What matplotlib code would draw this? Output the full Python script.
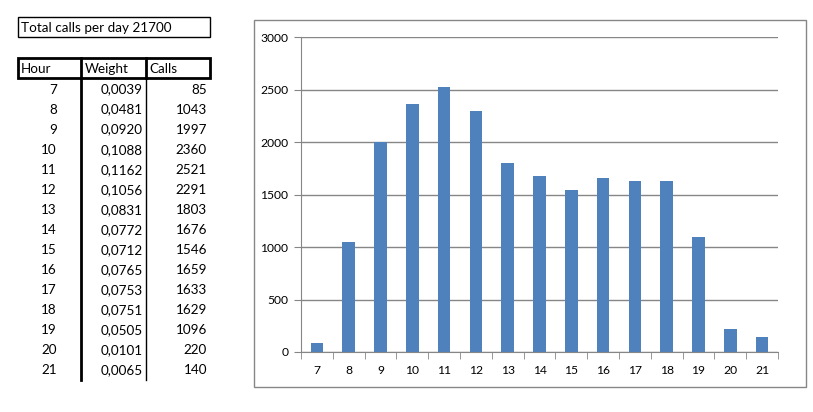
import numpy as np
import matplotlib.pyplot as plt
from matplotlib.patches import Rectangle

# dados
total = 21700
horas = [7, 8, 9, 10, 11, 12, 13, 14, 15, 16, 17, 18, 19, 20, 21]
pesos = ["0,0039", "0,0481", "0,0920", "0,1088", "0,1162", "0,1056", "0,0831",
         "0,0772", "0,0712", "0,0765", "0,0753", "0,0751", "0,0505", "0,0101", "0,0065"]
chamadas = [85, 1043, 1997, 2360, 2521, 2291, 1803, 1676, 1546, 1659, 1633, 1629, 1096, 220, 140]

plt.rcParams['font.family'] = ['Lato', 'DejaVu Sans']

fig = plt.figure(figsize=(8.13, 4.12), dpi=100)

# eixo de fundo em pixels para a tabela
bg = fig.add_axes([0, 0, 1, 1])
bg.set_xlim(0, 813)
bg.set_ylim(412, 0)
bg.axis("off")

fs = 9.7
bg.add_patch(Rectangle((18, 17), 192, 20, fill=False, lw=1, ec="black"))
bg.text(21, 27.5, "Total calls per day %d" % total, fontsize=fs, va="center")

# cabeçalho
bg.add_patch(Rectangle((18, 58), 192, 20, fill=False, lw=2, ec="black"))
bg.plot([81, 81], [58, 380], color="black", lw=2)
bg.plot([146, 146], [58, 78], color="black", lw=2)
bg.plot([146, 146], [78, 380], color="black", lw=1)
bg.text(21, 68.5, "Hour", fontsize=fs, va="center")
bg.text(85, 68.5, "Weight", fontsize=fs, va="center")
bg.text(149, 68.5, "Calls", fontsize=fs, va="center")

# linhas
for i in range(len(horas)):
    y = 89.5 + i * 20.07
    bg.text(57, y, str(horas[i]), fontsize=fs, va="center", ha="right")
    bg.text(143, y, pesos[i], fontsize=fs, va="center", ha="right")
    bg.text(207, y, str(chamadas[i]), fontsize=fs, va="center", ha="right")

# moldura do gráfico
bg.add_patch(Rectangle((254, 20), 552, 367, fill=False, lw=1, ec="#868686"))

# gráfico de barras
ax = fig.add_axes([301 / 813, (412 - 352) / 412, (778 - 301) / 813, (352 - 37) / 412])
x = np.arange(len(horas))
ax.bar(x, chamadas, width=0.4, color="#4F81BD", zorder=3)
ax.set_xlim(-0.5, len(horas) - 0.5)
ax.set_ylim(0, 3000)
ax.set_yticks(np.arange(0, 3001, 500))
ax.set_xticks(x)
ax.set_xticklabels([str(h) for h in horas])
ax.set_xticks(np.arange(-0.5, len(horas), 1), minor=True)
ax.tick_params(axis="x", which="major", length=0, pad=9, labelsize=8.7)
ax.tick_params(axis="x", which="minor", length=5, color="#868686")
ax.tick_params(axis="y", length=5, color="#868686", labelsize=8.7, pad=4)
ax.grid(axis="y", color="#868686", lw=1, zorder=0)
for s in ["top", "right"]:
    ax.spines[s].set_visible(False)
for s in ["left", "bottom"]:
    ax.spines[s].set_color("#868686")
    ax.spines[s].set_zorder(4)

fig.savefig("out.png", dpi=100)
